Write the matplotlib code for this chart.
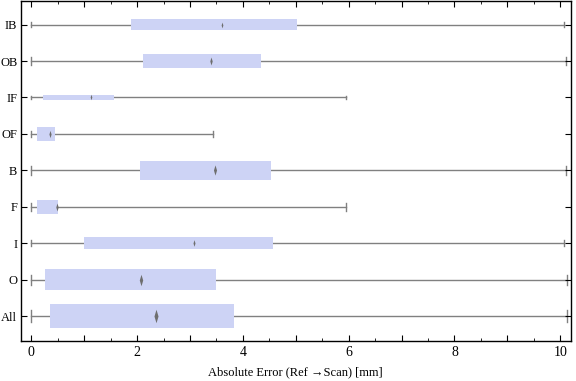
import matplotlib
matplotlib.use("Agg")
import matplotlib.pyplot as plt
from matplotlib.ticker import MultipleLocator, FuncFormatter
from matplotlib.patches import Rectangle
from matplotlib.path import Path

plt.rcParams['font.family'] = ['Liberation Serif', 'DejaVu Serif']

categories = ["All", "O", "I", "F", "B", "OF", "IF", "OB", "IB"]
whisker_low = [0.0, 0.0, 0.0, 0.0, 0.0, 0.0, 0.0, 0.0, 0.0]
q1 = [0.35, 0.26, 1.0, 0.11, 2.06, 0.11, 0.22, 2.11, 1.89]
q3 = [3.83, 3.49, 4.57, 0.50, 4.53, 0.44, 1.56, 4.34, 5.02]
center = [2.35, 2.07, 3.07, 0.48, 3.47, 0.35, 1.12, 3.39, 3.61]
whisker_high = [10.12, 10.12, 10.08, 5.95, 10.11, 3.43, 5.95, 10.11, 10.07]
box_width = [0.67, 0.57, 0.33, 0.40, 0.51, 0.36, 0.16, 0.40, 0.29]

box_color = "#CDD3F5"
line_color = "#808080"

fig = plt.figure(figsize=(5.76, 3.81), dpi=100)
ax = fig.add_axes([0.036, 0.1058, 0.955, 0.891])

diamond = Path([(0, 1), (0.3, 0), (0, -1), (-0.3, 0), (0, 1)],
               [Path.MOVETO, Path.LINETO, Path.LINETO, Path.LINETO, Path.CLOSEPOLY])

for i, cat in enumerate(categories):
    y = i + 1
    w = box_width[i]
    ax.plot([whisker_low[i], whisker_high[i]], [y, y], color=line_color, lw=1.0, zorder=1)
    for xe in (whisker_low[i], whisker_high[i]):
        ax.plot([xe, xe], [y - w / 4, y + w / 4], color=line_color, lw=1.0, zorder=1)
    ax.add_patch(Rectangle((q1[i], y - w / 2), q3[i] - q1[i], w,
                           facecolor=box_color, edgecolor="none", zorder=2))
    ax.plot([center[i]], [y], marker=diamond, markersize=max(4, w * 36.5 * 0.55 * 0.72),
            color="#6E6E6E", markeredgewidth=0, zorder=3)

ax.set_xlim(-0.2, 10.2)
ax.set_ylim(0.33, 9.64)
ax.set_yticks(range(1, len(categories) + 1))
ax.set_yticklabels(categories)
ax.xaxis.set_major_locator(MultipleLocator(1))
ax.xaxis.set_minor_locator(MultipleLocator(0.5))
ax.xaxis.set_major_formatter(FuncFormatter(lambda v, p: f"{int(round(v))}" if int(round(v)) % 2 == 0 else ""))
ax.tick_params(axis="both", which="both", direction="in", top=True, right=True, color="black")
ax.tick_params(axis="y", labelsize=9, pad=2.5)
ax.tick_params(axis="x", labelsize=10, pad=4)
ax.tick_params(axis="both", which="major", length=4, width=0.8)
ax.tick_params(axis="x", which="minor", length=2.5, width=0.6)
for s in ax.spines.values():
    s.set_linewidth(1.0)
ax.set_xlabel("Absolute Error (Ref \u2192Scan) [mm]", fontsize=9, labelpad=5)

fig.savefig("out.png", dpi=100)
